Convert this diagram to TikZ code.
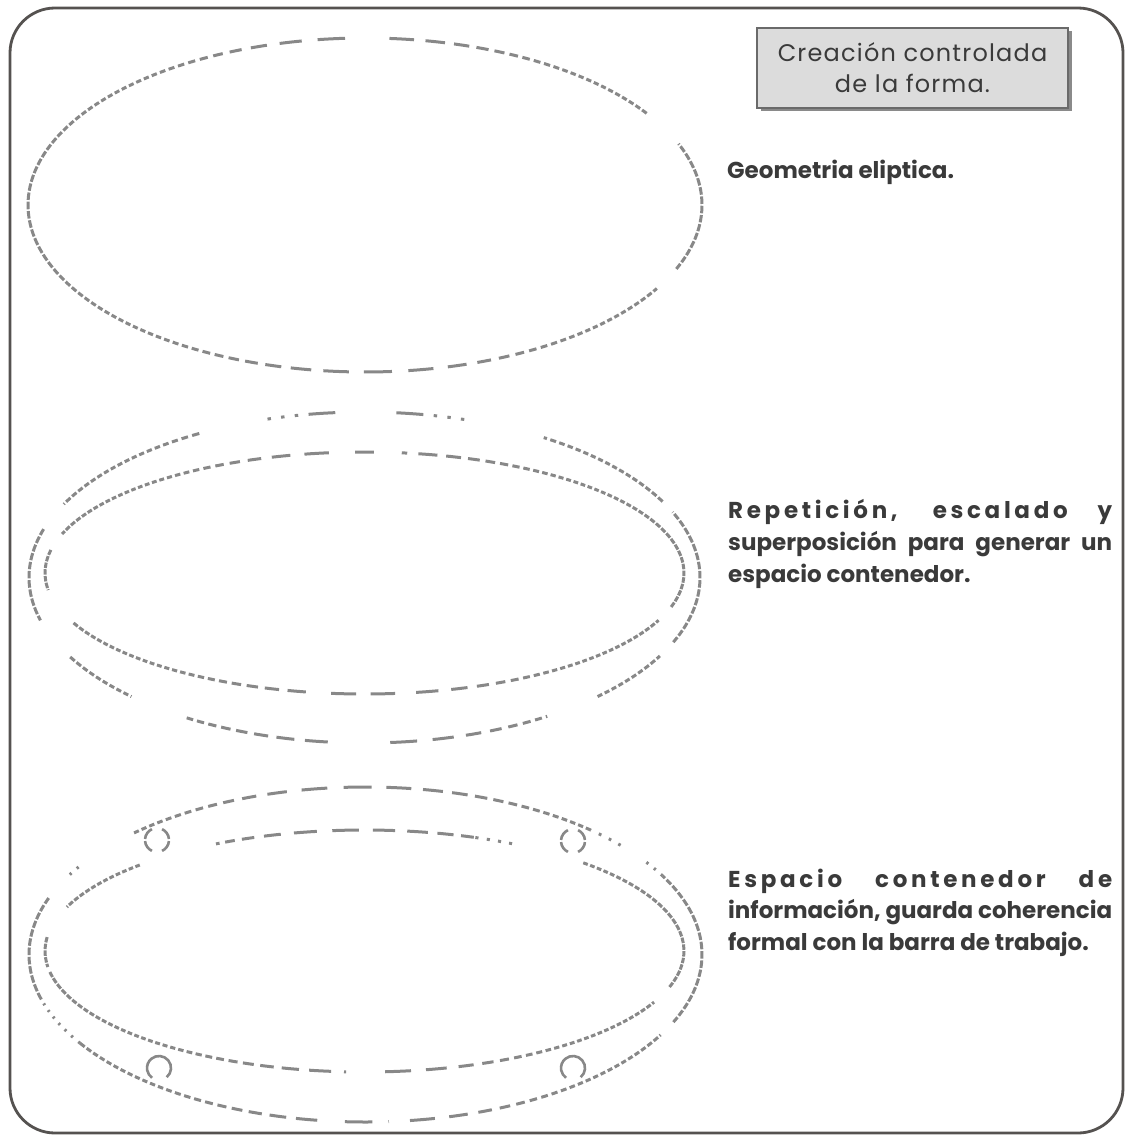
\documentclass[tikz,border=0pt]{standalone}
\usepackage{fontspec}
\newfontfamily\labfont{Poppins}
\newfontfamily\spacedfont[LetterSpace=16]{Poppins}
\newfontfamily\headfont[LetterSpace=5]{Poppins}

\definecolor{ellgray}{HTML}{888888}
\definecolor{framegray}{HTML}{555250}
\definecolor{labgray}{HTML}{3A3A3A}
\definecolor{boxfill}{HTML}{DCDCDC}
\definecolor{boxline}{HTML}{6A6A6A}
\definecolor{shadowgray}{HTML}{8A8A8A}

% dash lengths (degrees of the ellipse parameter):
% on  = base + extra*sin^16 + side*cos^8,  off = base + extra*sin^16
\newcommand\dashmode[5]{\def\daonb{#1}\def\daone{#2}\def\daoffb{#3}\def\daoffe{#4}\def\daside{#5}}
\dashmode{1.0}{3.8}{0.6}{2.2}{1.6}

% dashed elliptic arc: centre (#1,#2), radii #3,#4, parameter range #5..#6
\newcommand\dasharc[6]{%
  \pgfmathsetmacro\dacur{#5}%
  \loop
    \pgfmathsetmacro\das{sin(\dacur)*sin(\dacur)}%
    \pgfmathsetmacro\dac{(1-\das)*(1-\das)}%
    \pgfmathsetmacro\dac{\dac*\dac}%
    \pgfmathsetmacro\das{\das*\das}%
    \pgfmathsetmacro\das{\das*\das}%
    \pgfmathsetmacro\das{\das*\das}%
    \pgfmathsetmacro\daon{\daonb+\daone*\das+\daside*\dac}%
    \pgfmathsetmacro\daoff{\daoffb+\daoffe*\das}%
    \pgfmathsetmacro\daend{min(\dacur+\daon,#6)}%
    \draw[ell] ({#1+#3*cos(\dacur)},{#2+#4*sin(\dacur)})
      arc[start angle=\dacur,end angle=\daend,x radius=#3pt,y radius=#4pt];%
    \pgfmathsetmacro\dacur{\dacur+\daon+\daoff}%
  \ifdim\dacur pt<#6pt\repeat}

\newcommand\ellarcs[5]{\foreach \ta/\tb in {#5} {\dasharc{#1}{#2}{#3}{#4}{\ta}{\tb}}}

\newcommand\fullline[1]{\makebox[384pt][s]{#1}}

\tikzset{
  ell/.style={draw=ellgray, line width=3pt},
  ring/.style={draw=ellgray, line width=2.6pt},
  frame/.style={draw=framegray, line width=2.8pt, rounded corners=45pt},
  lab/.style={anchor=base west, inner sep=0pt, text=labgray,
    font=\labfont\bfseries\fontsize{23}{23}\selectfont},
  labwide/.style={lab, font=\spacedfont\bfseries\fontsize{23}{23}\selectfont},
  titlebox/.style={draw=boxline, fill=boxfill, line width=1.4pt,
    minimum width=311pt, minimum height=80pt, inner sep=0pt,
    align=center, text=labgray,
    font=\headfont\fontsize{24}{31}\selectfont},
}

\begin{document}
\begin{tikzpicture}[x=1pt,y=1pt]
\useasboundingbox (0,0) rectangle (1129,-1137);

% outer frame
\draw[frame] (10,-8) rectangle (1123,-1133);

% title box with its shadow
\fill[shadowgray] (760.5,-31.5) rectangle (1071.5,-111.5);
\node[titlebox] (title) at (912.5,-68) {Creación controlada\\de la forma.};

% --- first figure: single ellipse
\ellarcs{365}{-205}{337}{167}{33.3/86, 93.4/330, 337.5/381.5}

% --- second figure: two superposed ellipses
\ellarcs{364.5}{-577.5}{335.5}{165.5}{27.3/57.7, 119.5/153.7, 163/195, 208.7/226, 238/266, 274.4/303, 314/331.7, 337/383.3}
\begin{scope}
  \dashmode{0.6}{0}{1.8}{0}{0}
  \ellarcs{364.5}{-577.5}{335.5}{165.5}{72.7/80.5, 99/107.4}
\end{scope}
\ellarcs{364.5}{-577.5}{335.5}{165.5}{80.5/84.6, 95/99}
\ellarcs{364.5}{-573}{319.5}{121}{88.3/91.7, 96.4/161.2, 169/188.1, 204.4/261, 264/275.5, 279.3/337, 343.7/443.3}

% --- third figure: container with four rings
\ellarcs{365.5}{-954.5}{336.5}{167.5}{48/133.5, 160.3/195.8, 212/262.4, 266.5/274, 277.6/331.3, 336.2/388}
\begin{scope}
  \dashmode{0.6}{0}{1.8}{0}{0}
  \ellarcs{365.5}{-954.5}{336.5}{167.5}{28/35, 40.7/48, 148.5/152.5, 197/212}
\end{scope}
\ellarcs{364.5}{-951}{319.5}{121}{91/117.7, 134.7/158.7, 173.4/187.6, 190/266.7, 273.7/335, 342.7/406.9}
\begin{scope}
  \dashmode{0.6}{0}{1.6}{0}{0}
  \ellarcs{364.5}{-951}{319.5}{121}{62.5/70}
\end{scope}
\ellarcs{364.5}{-951}{319.5}{121}{70/88.5}

% rings
\foreach \cx/\cy in {157/-840, 573/-841} {
  \draw[ring] (\cx,\cy) ++(115:12) arc[start angle=115,end angle=175,radius=12pt];
  \draw[ring] (\cx,\cy) ++(185:12) arc[start angle=185,end angle=245,radius=12pt];
  \draw[ring] (\cx,\cy) ++(-65:12) arc[start angle=-65,end angle=-5,radius=12pt];
  \draw[ring] (\cx,\cy) ++(5:12) arc[start angle=5,end angle=65,radius=12pt];
}
\foreach \cx/\cy in {159/-1068, 573/-1068} {
  \draw[ring] (\cx,\cy) ++(-50:12) arc[start angle=-50,end angle=235,radius=12pt];
}

% labels
\node[lab] (geo) at (727,-178) {Geometria eliptica.};
\node[labwide] (rep1) at (728,-518) {\fullline{Repetición, escalado y}};
\node[lab] (rep2) at (728,-550) {\fullline{superposición para generar un}};
\node[lab] (rep3) at (728,-582) {espacio contenedor.};
\node[labwide] (esp1) at (728,-887) {\fullline{Espacio contenedor de}};
\node[lab] (esp2) at (728,-918) {\fullline{información, guarda coherencia}};
\node[lab] (esp3) at (728,-950) {formal con la barra de trabajo.};
\end{tikzpicture}
\end{document}
